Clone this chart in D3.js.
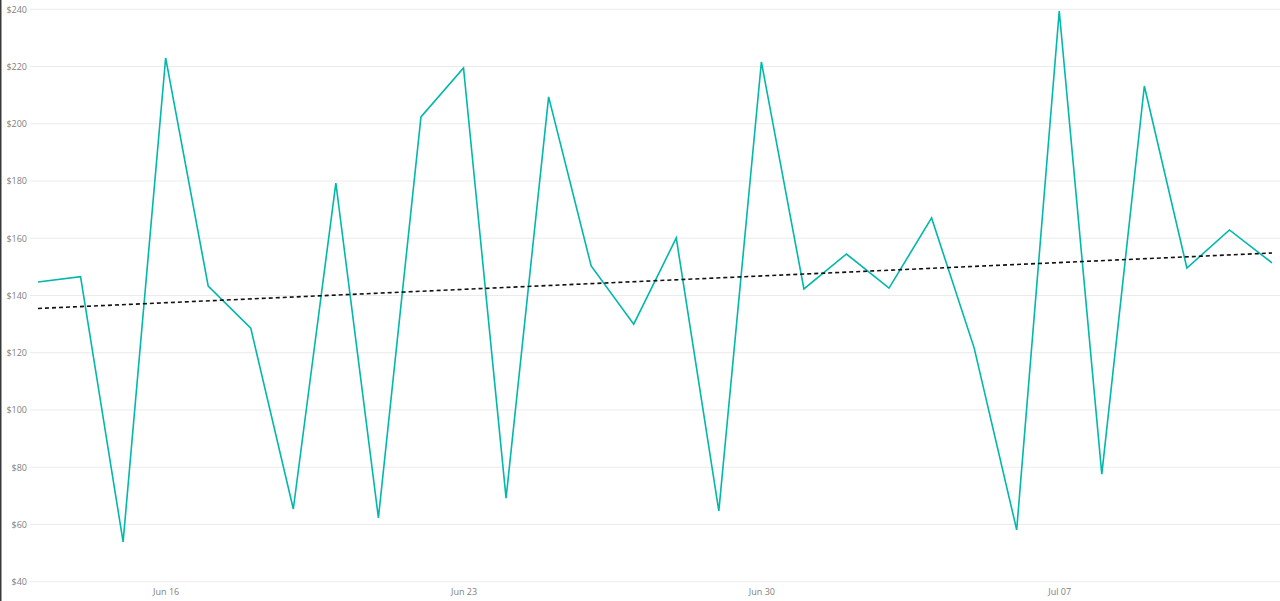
<!DOCTYPE html>
<html><head><meta charset="utf-8">
<script src="https://cdn.jsdelivr.net/npm/d3@7"></script>
<style>body{margin:0;background:#fff;}svg{display:block;}</style>
</head><body>
<svg id="c" width="1280" height="601"></svg>
<script>
const startDate = "2019-06-13";
const values = [144.7,146.6,53.9,223.0,143.3,128.6,65.4,179.3,62.3,202.4,219.5,69.2,209.4,150.3,130.0,160.1,64.7,221.6,142.3,154.5,142.6,167.1,121.7,58.1,239.4,77.6,213.2,149.6,162.9,151.4];
const yTicks = [40,60,80,100,120,140,160,180,200,220,240];
const xTickLabels = ["Jun 16","Jun 23","Jun 30","Jul 07"];

const parse = d3.timeParse("%Y-%m-%d");
const d0 = parse(startDate);
const data = values.map((v,i)=>({date:d3.timeDay.offset(d0,i), value:v}));

const svg = d3.select("#c");
const x = d3.scaleTime().domain([data[0].date, data[data.length-1].date]).range([38,1272]);
const y = d3.scaleLinear().domain([40,240]).range([581.7,9.3]);

// left border
svg.append("rect").attr("x",0).attr("y",0).attr("width",1.5).attr("height",601).attr("fill","#3a3a3a");

// gridlines
svg.append("g").selectAll("line").data(yTicks).join("line")
  .attr("x1",30).attr("x2",1280)
  .attr("y1",d=>y(d)).attr("y2",d=>y(d))
  .attr("stroke","#ebebeb").attr("stroke-width",1);

// y axis labels
const yAxis = d3.axisLeft(y).tickValues(yTicks).tickFormat(d=>"$"+d).tickSize(0).tickPadding(0);
const gy = svg.append("g").attr("transform","translate(27,0)").call(yAxis);
gy.select(".domain").remove();
gy.selectAll("text").attr("fill","#808080").style("font-family","'Open Sans', 'DejaVu Sans', sans-serif").style("font-size","9px");

// x axis labels
const xTicks = xTickLabels.map(s=>d3.timeParse("%b %d %Y")(s+" 2019"));
const xAxis = d3.axisBottom(x).tickValues(xTicks).tickFormat(d3.timeFormat("%b %d")).tickSize(0).tickPadding(0);
const gx = svg.append("g").attr("transform","translate(0,589)").call(xAxis);
gx.select(".domain").remove();
gx.selectAll("text").attr("fill","#808080").style("font-family","'Open Sans', 'DejaVu Sans', sans-serif").style("font-size","9px");

// line
const line = d3.line().x(d=>x(d.date)).y(d=>y(d.value));
svg.append("path").datum(data).attr("d",line)
  .attr("fill","none").attr("stroke","#01B8AA").attr("stroke-width",1.6).attr("stroke-linejoin","miter");

// trend line (least squares)
const n = data.length;
const xs = d3.range(n);
const mx = d3.mean(xs), my = d3.mean(values);
const slope = d3.sum(xs,(xi,i)=>(xi-mx)*(values[i]-my))/d3.sum(xs,xi=>(xi-mx)*(xi-mx));
const icpt = my - slope*mx;
const trend = [{date:data[0].date,value:icpt},{date:data[n-1].date,value:icpt+slope*(n-1)}];
svg.append("path").datum(trend).attr("d",line)
  .attr("fill","none").attr("stroke","#111").attr("stroke-width",1.6).attr("stroke-dasharray","4,3");
</script>
</body></html>
